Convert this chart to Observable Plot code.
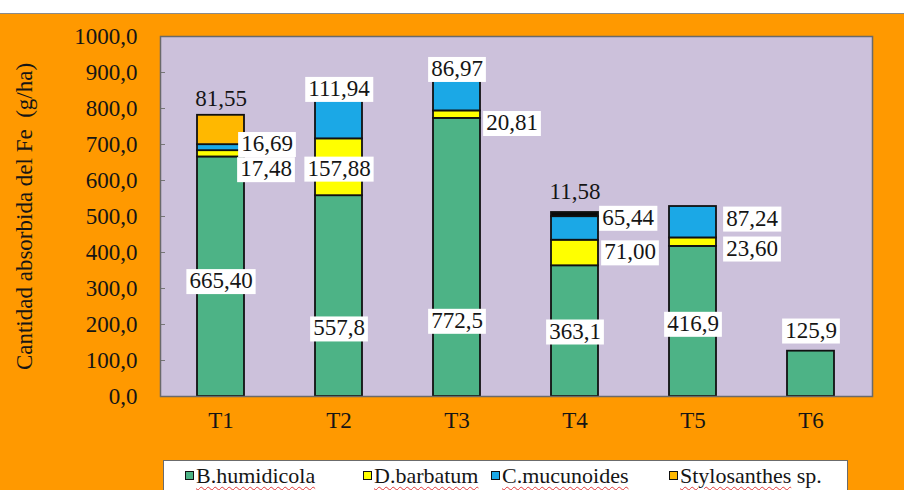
<!DOCTYPE html>
<html>
<head>
<meta charset="utf-8">
<script src="https://cdn.jsdelivr.net/npm/d3@7"></script>
<script src="https://cdn.jsdelivr.net/npm/@observablehq/plot@0.6"></script>
<style>
  body { margin: 0; background: #fff; }
  #wrap { position: relative; width: 904px; height: 490px; overflow: hidden; font-family: "Liberation Serif", "Times New Roman", Times, serif; }
  #topline { position: absolute; left: 0; top: 13px; width: 904px; height: 1px; background: #8a8a8a; }
  #bg { position: absolute; left: 0; top: 14px; width: 904px; height: 476px; background: #FF9900; }
  #chart { position: absolute; left: 0; top: 0; }
  #legend { position: absolute; left: 163px; top: 460px; width: 685px; height: 40px; background: #fff; border: 1px solid #6b6b6b; box-sizing: border-box; }
  .item { position: absolute; top: 2px; font-size: 22px; color: #151515; white-space: nowrap; }
  .sw { display: inline-block; width: 7px; height: 7px; border: 1.5px solid #111; margin-right: 2px; vertical-align: 3px; }
  .name { text-decoration: underline wavy #e03a3a; text-decoration-thickness: 1px; text-underline-offset: 3px; }
  #chart svg, #chart svg text { font-family: "Liberation Serif", "Times New Roman", Times, serif !important; }
</style>
</head>
<body>
<div id="wrap">
  <div id="topline"></div>
  <div id="bg"></div>
  <div id="chart"></div>
  <div id="legend"></div>
</div>
<script>
// ---- data ----
const categories = ["T1", "T2", "T3", "T4", "T5", "T6"];
const seriesNames = ["B.humidicola", "D.barbatum", "C.mucunoides", "Stylosanthes sp.", "Otro"];
const bHumidicola = [665.40, 557.8, 772.5, 363.1, 416.9, 125.9];
const dBarbatum   = [17.48, 157.88, 20.81, 71.00, 23.60, 0];
const cMucunoides = [16.69, 111.94, 86.97, 65.44, 87.24, 0];
const stylosanthes = [81.55, 0, 0, 0, 0, 0];
const otro        = [0, 0, 0, 11.58, 0, 0];
const yTicks = [0, 100, 200, 300, 400, 500, 600, 700, 800, 900, 1000];
const legendNames = ["B.humidicola", "D.barbatum", "C.mucunoides", "Stylosanthes"];
const yLabel = "Cantidad absorbida del Fe\u00a0\u00a0(g/ha)";

// ---- styles ----
const seriesColors = ["#4DB386", "#FFFF00", "#1BA8E6", "#FFB800", "#0a0a0a"];
const lavender = "#CCC1DB";
const textColor = "#151515";
const fmt = (v, d) => v.toFixed(d).replace(".", ",");

const seriesValues = [bHumidicola, dBarbatum, cMucunoides, stylosanthes, otro];
const rows = [];
categories.forEach((c, i) => {
  seriesValues.forEach((arr, s) => {
    if (arr[i] > 0) rows.push({cat: c, series: seriesNames[s], value: arr[i]});
  });
});

// label placement: [category, series index, anchor, decimals, dx, dy, boxed]
const labelLayout = [
  ["T1", 0, "mid", 2, 0, 4, true],
  ["T1", 1, "mid", 2, 45, 15, true],
  ["T1", 2, "mid", 2, 46, -4, true],
  ["T1", 3, "top", 2, 0, -17, false],
  ["T2", 0, "mid", 1, 0, 32, true],
  ["T2", 1, "mid", 2, 0, 1, true],
  ["T2", 2, "top", 2, 0, -10, true],
  ["T3", 0, "mid", 1, 0, 63, true],
  ["T3", 1, "mid", 2, 55, 8, true],
  ["T3", 2, "top", 2, 0, -11, true],
  ["T4", 0, "mid", 1, 0, 0, true],
  ["T4", 1, "mid", 2, 55, -1, true],
  ["T4", 2, "mid", 2, 53, -11, true],
  ["T4", 4, "top", 2, 0, -21, false],
  ["T5", 0, "mid", 1, 0, 2, true],
  ["T5", 1, "mid", 2, 59, 6, true],
  ["T5", 2, "mid", 2, 59, -4, true],
  ["T6", 0, "top", 1, 0, -21, true]
];

const labelMarks = labelLayout.map(([cat, s, anchor, dec, dx, dy, boxed]) => {
  const i = categories.indexOf(cat);
  const base = d3.sum(seriesValues.slice(0, s), a => a[i]);
  const total = d3.sum(seriesValues, a => a[i]);
  const v = seriesValues[s][i];
  const y = anchor === "top" ? total : base + v / 2;
  return Plot.text([{cat, y, text: fmt(v, dec)}], {
    x: "cat", y: "y", text: "text", dx, dy,
    fontSize: 23, fill: textColor,
    ariaDescription: boxed ? "boxed" : "plain"
  });
});

const chart = Plot.plot({
  width: 904,
  height: 455,
  marginLeft: 160,
  marginRight: 32,
  marginTop: 36,
  marginBottom: 59,
  style: {background: "transparent", fontSize: "23px", color: textColor},
  x: {domain: categories, paddingInner: 0.6, paddingOuter: 0.3, label: null},
  y: {domain: [0, 1000], label: null},
  color: {domain: seriesNames, range: seriesColors},
  marks: [
    Plot.frame({fill: lavender}),
    Plot.barY(rows, {x: "cat", y: "value", fill: "series", stroke: "#111", strokeWidth: 1.8}),
    Plot.axisY({ticks: yTicks, text: null, tickSize: 5, dx: 5, stroke: "#777"}),
    Plot.axisY({ticks: yTicks, tickSize: 0, tickPadding: 23, tickFormat: d => fmt(d, 1), fontSize: 23}),
    Plot.axisX({tickSize: 0, tickPadding: 15, fontSize: 23}),
    Plot.frame({stroke: "#6a6a6a", strokeWidth: 1.5}),
    Plot.text([yLabel], {text: d => d, frameAnchor: "left", textAnchor: "middle", dx: -136, rotate: -90, fontSize: 23, fill: textColor}),
    ...labelMarks
  ]
});
document.getElementById("chart").appendChild(chart);

// white boxes behind boxed labels
chart.querySelectorAll('g[aria-description="boxed"] text').forEach(t => {
  const b = t.getBBox();
  const r = document.createElementNS("http://www.w3.org/2000/svg", "rect");
  r.setAttribute("x", b.x - 3);
  r.setAttribute("y", b.y + 1);
  r.setAttribute("width", b.width + 6);
  r.setAttribute("height", b.height);
  r.setAttribute("fill", "#fff");
  if (t.getAttribute("transform")) r.setAttribute("transform", t.getAttribute("transform"));
  t.parentNode.insertBefore(r, t);
});

// legend
const legendX = [21, 199, 327, 505];
const legend = document.getElementById("legend");
legendNames.forEach((n, i) => {
  const div = document.createElement("div");
  div.className = "item";
  div.style.left = legendX[i] + "px";
  const sw = document.createElement("span");
  sw.className = "sw";
  sw.style.background = seriesColors[i];
  const nm = document.createElement("span");
  nm.className = "name";
  nm.textContent = n;
  div.appendChild(sw);
  div.appendChild(nm);
  if (i === 3) div.appendChild(document.createTextNode(" sp."));
  legend.appendChild(div);
});
</script>
</body>
</html>
